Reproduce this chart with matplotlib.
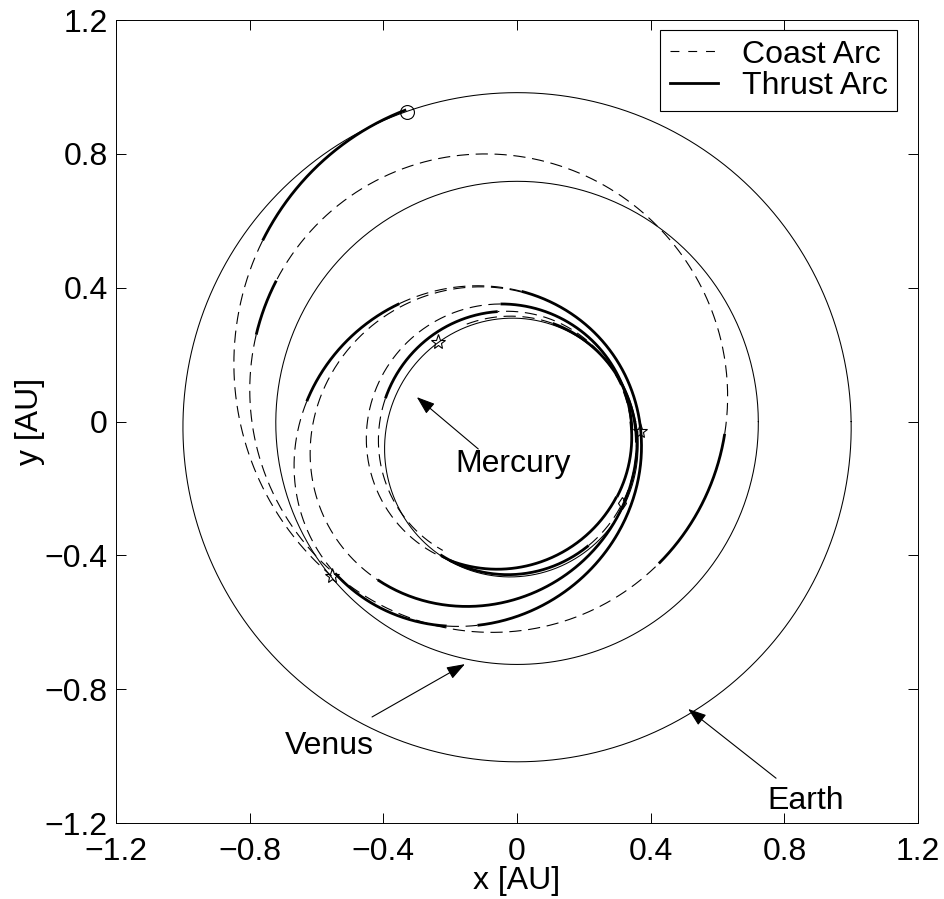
import numpy as np
import matplotlib
matplotlib.use('Agg')
import matplotlib.pyplot as plt
from matplotlib.lines import Line2D

plt.rcParams['font.family'] = ['Liberation Sans', 'DejaVu Sans']
FS = 23

# planet orbits: perihelion, aphelion [AU], longitude of perihelion [deg]
planet_names = ['Mercury', 'Venus', 'Earth']
planet_rp = [0.3075, 0.718, 0.983]
planet_ra = [0.4667, 0.726, 1.017]
planet_peri = [77.5, 90.0, 90.0]

# spacecraft conic arcs: perihelion, aphelion [AU], longitude of perihelion [deg]
orbit_rp = [0.65, 0.60, 0.35, 0.345, 0.33, 0.32, 0.312]
orbit_ra = [0.99, 0.84, 0.71, 0.645, 0.47, 0.445, 0.462]
orbit_peri = [285.0, 315.0, 35.0, 30.0, 40.0, 55.0, 72.0]

# trajectory pieces: which conic, true longitude range [deg], thrusting or not
seg_orbit = [0, 0,
             1, 1, 1, 1, 1,
             2, 2, 2, 2, 2, 2,
             3, 3,
             4, 4, 4,
             5, 5, 5, 5,
             6, 6, 6, 6]
seg_start = [109.6, 144.6,
             219.8, 315.0, 356.6, 509.7, 521.6,
             219.8, 251.0, 259.0, 448.0, 495.0, 534.5,
             88.0, 228.6,
             355.8, 458.0, 604.0,
             683.0, 720.0, 820.0, 890.0,
             960.0, 1020.0, 1070.0, 1150.0]
seg_end = [144.6, 219.8,
           315.0, 356.6, 509.7, 521.6, 579.8,
           251.0, 259.0, 448.0, 495.0, 534.5, 579.8,
           228.6, 355.8,
           458.0, 604.0, 683.0,
           720.0, 820.0, 890.0, 960.0,
           1020.0, 1070.0, 1150.0, 1200.0]
seg_thrust = [1, 0,
              0, 1, 0, 1, 0,
              1, 0, 1, 0, 1, 0,
              0, 1,
              1, 0, 1,
              1, 0, 1, 0,
              1, 0, 1, 0]

# launch and flyby positions [AU]
launch_xy = (-0.330, 0.926)
flyby_x = [-0.554, -0.236, 0.368]
flyby_y = [-0.461, 0.237, -0.027]
arrival_xy = (0.313, -0.242)

ticks = [-1.2, -0.8, -0.4, 0, 0.4, 0.8, 1.2]
tick_labels = ['\u22121.2', '\u22120.8', '\u22120.4', '0', '0.4', '0.8', '1.2']


def conic(rp, ra, peri, th_deg):
    a = 0.5 * (rp + ra)
    e = (ra - rp) / (ra + rp)
    p = a * (1 - e ** 2)
    th = np.radians(th_deg)
    r = p / (1 + e * np.cos(th - np.radians(peri)))
    return r * np.cos(th), r * np.sin(th)


fig = plt.figure(figsize=(9.45, 8.99), dpi=100)
ax = fig.add_axes([0.1228, 0.0845, 0.8487, 0.8932])

# planets
for rp, ra, w in zip(planet_rp, planet_ra, planet_peri):
    x, y = conic(rp, ra, w, np.linspace(0, 360, 721))
    ax.plot(x, y, color='k', lw=0.75)

# spacecraft
for k in range(len(seg_orbit)):
    i = seg_orbit[k]
    th = np.linspace(seg_start[k], seg_end[k], 200)
    x, y = conic(orbit_rp[i], orbit_ra[i], orbit_peri[i], th)
    if seg_thrust[k]:
        ax.plot(x, y, color='k', lw=2.0, solid_capstyle='butt')
    else:
        ax.plot(x, y, color='k', lw=0.8, dashes=(11, 6))

ax.plot(*launch_xy, 'o', ms=10, mfc='none', mec='k', mew=0.8)
ax.plot(flyby_x, flyby_y, '*', ms=11, mfc='none', mec='k', mew=0.8, ls='none')
ax.plot(*arrival_xy, 'd', ms=6, mfc='none', mec='k', mew=0.8)

arrow = dict(arrowstyle='-|>,head_length=0.7,head_width=0.25', color='k', lw=0.8,
             mutation_scale=16, shrinkA=0, shrinkB=0)
ax.annotate('', xy=(-0.300, 0.073), xytext=(-0.116, -0.082), arrowprops=arrow)
ax.annotate('', xy=(-0.156, -0.725), xytext=(-0.434, -0.883), arrowprops=arrow)
ax.annotate('', xy=(0.512, -0.859), xytext=(0.775, -1.066), arrowprops=arrow)
ax.text(-0.012, -0.126, 'Mercury', fontsize=FS, ha='center', va='center')
ax.text(-0.563, -0.970, 'Venus', fontsize=FS, ha='center', va='center')
ax.text(0.865, -1.135, 'Earth', fontsize=FS, ha='center', va='center')

handles = [Line2D([], [], color='k', lw=0.8, dashes=(8, 8)),
           Line2D([], [], color='k', lw=2.0)]
leg = ax.legend(handles, ['Coast Arc', 'Thrust Arc'], loc='upper right',
                bbox_to_anchor=(0.974, 0.9875), fontsize=FS,
                fancybox=False, edgecolor='k', framealpha=1, handlelength=1.5,
                borderaxespad=0, borderpad=0.3, labelspacing=0.05, handletextpad=0.75)
leg.get_frame().set_linewidth(0.8)

ax.set_xlim(-1.2, 1.2)
ax.set_ylim(-1.2, 1.2)
ax.set_xticks(ticks)
ax.set_yticks(ticks)
ax.set_xticklabels(tick_labels, fontsize=FS)
ax.set_yticklabels(tick_labels, fontsize=FS)
ax.tick_params(direction='in', length=7, width=0.7, top=True, right=True)
ax.tick_params(axis='x', pad=10)
ax.tick_params(axis='y', pad=6)
for s in ax.spines.values():
    s.set_linewidth(0.7)
ax.set_xlabel('x [AU]', fontsize=FS, labelpad=-1)
ax.set_ylabel('y [AU]', fontsize=FS, labelpad=0)

fig.savefig('out.png', dpi=100)
